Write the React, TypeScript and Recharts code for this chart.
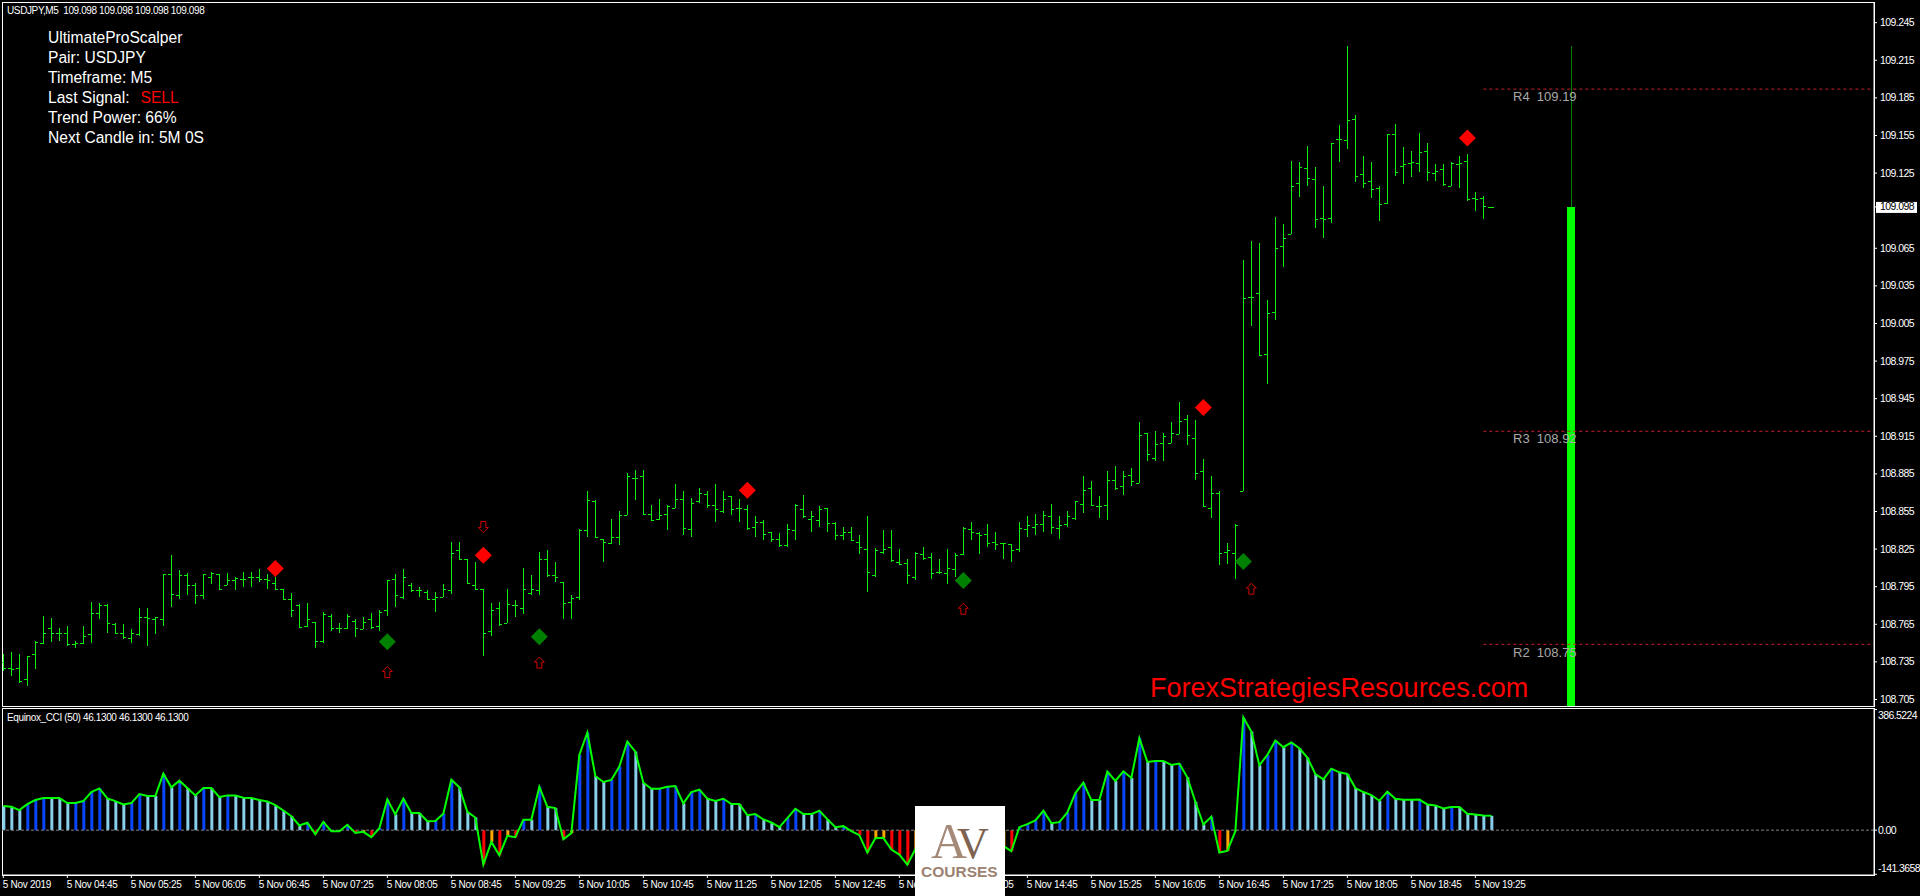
import React from "react";
import {
  ComposedChart,
  Bar,
  Line,
  Scatter,
  XAxis,
  YAxis,
  Cell,
  ReferenceLine,
} from "recharts";

// USDJPY M5 bars
const opens = [
  108.735, 108.73, 108.73, 108.721, 108.741, 108.75, 108.762, 108.758, 108.758, 108.749,
  108.75, 108.757, 108.774, 108.78, 108.765, 108.758, 108.754, 108.757, 108.771, 108.769,
  108.769, 108.805, 108.788, 108.804, 108.796, 108.788, 108.803, 108.805, 108.796, 108.8,
  108.801, 108.803, 108.803, 108.801, 108.798, 108.793, 108.785, 108.78, 108.764, 108.767,
  108.752, 108.772, 108.762, 108.762, 108.768, 108.761, 108.769, 108.764, 108.776, 108.801,
  108.787, 108.796, 108.792, 108.791, 108.785, 108.787, 108.792, 108.824, 108.817, 108.796,
  108.793, 108.76, 108.778, 108.766, 108.78, 108.778, 108.79, 108.792, 108.817, 108.804,
  108.799, 108.783, 108.787, 108.84, 108.863, 108.833, 108.83, 108.835, 108.852, 108.882,
  108.883, 108.853, 108.849, 108.853, 108.858, 108.865, 108.841, 108.863, 108.869, 108.86,
  108.855, 108.867, 108.858, 108.857, 108.843, 108.847, 108.839, 108.833, 108.828, 108.84,
  108.857, 108.849, 108.848, 108.858, 108.846, 108.836, 108.839, 108.831, 108.825, 108.804,
  108.823, 108.827, 108.815, 108.814, 108.803, 108.821, 108.819, 108.807, 108.806, 108.809,
  108.821, 108.841, 108.838, 108.837, 108.831, 108.83, 108.829, 108.825, 108.841, 108.843,
  108.845, 108.851, 108.842, 108.845, 108.85, 108.861, 108.874, 108.859, 108.86, 108.88,
  108.875, 108.884, 108.878, 108.918, 108.898, 108.91, 108.91, 108.917, 108.929, 108.914,
  108.887, 108.858, 108.87, 108.823, 108.822, 108.871, 109.026, 109.029, 108.981, 109.014,
  109.067, 109.076, 109.117, 109.129, 109.12, 109.089, 109.089, 109.152, 109.151, 109.168,
  109.124, 109.119, 109.113, 109.101, 109.156, 109.131, 109.133, 109.133, 109.143, 109.125,
  109.128, 109.115, 109.132, 109.135, 109.105, 109.105, 109.098,
];
const highs = [
  108.741, 108.743, 108.741, 108.74, 108.752, 108.772, 108.77, 108.762, 108.764, 108.752,
  108.764, 108.783, 108.782, 108.781, 108.766, 108.765, 108.761, 108.778, 108.778, 108.771,
  108.805, 108.82, 108.808, 108.806, 108.798, 108.805, 108.807, 108.805, 108.806, 108.803,
  108.807, 108.807, 108.809, 108.805, 108.803, 108.793, 108.79, 108.781, 108.782, 108.767,
  108.775, 108.773, 108.766, 108.773, 108.769, 108.771, 108.774, 108.776, 108.8, 108.805,
  108.809, 108.798, 108.795, 108.792, 108.791, 108.797, 108.831, 108.831, 108.817, 108.815,
  108.793, 108.782, 108.783, 108.793, 108.784, 108.81, 108.804, 108.823, 108.824, 108.815,
  108.799, 108.788, 108.841, 108.871, 108.864, 108.833, 108.849, 108.855, 108.886, 108.888,
  108.888, 108.86, 108.865, 108.86, 108.877, 108.871, 108.866, 108.874, 108.871, 108.877,
  108.871, 108.867, 108.865, 108.86, 108.851, 108.848, 108.839, 108.838, 108.845, 108.861,
  108.868, 108.855, 108.859, 108.858, 108.847, 108.843, 108.843, 108.836, 108.851, 108.826,
  108.84, 108.84, 108.825, 108.817, 108.823, 108.827, 108.822, 108.817, 108.825, 108.822,
  108.843, 108.847, 108.839, 108.845, 108.839, 108.83, 108.829, 108.847, 108.851, 108.853,
  108.855, 108.861, 108.851, 108.855, 108.863, 108.883, 108.879, 108.867, 108.887, 108.891,
  108.887, 108.89, 108.926, 108.918, 108.919, 108.918, 108.926, 108.942, 108.932, 108.928,
  108.897, 108.883, 108.871, 108.83, 108.845, 109.056, 109.071, 109.069, 109.024, 109.09,
  109.084, 109.135, 109.134, 109.147, 109.13, 109.115, 109.149, 109.163, 109.226, 109.171,
  109.139, 109.134, 109.115, 109.156, 109.164, 109.146, 109.143, 109.157, 109.149, 109.132,
  109.132, 109.134, 109.139, 109.14, 109.11, 109.107, 109.098,
];
const lows = [
  108.728, 108.724, 108.718, 108.716, 108.729, 108.749, 108.751, 108.752, 108.748, 108.746,
  108.749, 108.75, 108.769, 108.758, 108.758, 108.753, 108.75, 108.756, 108.748, 108.757,
  108.764, 108.779, 108.785, 108.788, 108.781, 108.785, 108.797, 108.792, 108.796, 108.792,
  108.795, 108.795, 108.799, 108.793, 108.792, 108.785, 108.771, 108.762, 108.763, 108.746,
  108.75, 108.76, 108.758, 108.761, 108.755, 108.761, 108.761, 108.76, 108.772, 108.779,
  108.785, 108.791, 108.787, 108.784, 108.775, 108.787, 108.789, 108.816, 108.797, 108.792,
  108.74, 108.756, 108.764, 108.766, 108.771, 108.773, 108.788, 108.788, 108.803, 108.799,
  108.769, 108.769, 108.784, 108.835, 108.835, 108.815, 108.829, 108.828, 108.852, 108.864,
  108.852, 108.848, 108.848, 108.84, 108.858, 108.836, 108.835, 108.862, 108.858, 108.847,
  108.854, 108.852, 108.847, 108.84, 108.835, 108.832, 108.831, 108.827, 108.827, 108.832,
  108.85, 108.839, 108.843, 108.839, 108.832, 108.832, 108.832, 108.821, 108.791, 108.803,
  108.821, 108.815, 108.812, 108.797, 108.8, 108.816, 108.801, 108.805, 108.797, 108.803,
  108.82, 108.832, 108.821, 108.827, 108.824, 108.817, 108.815, 108.823, 108.835, 108.836,
  108.839, 108.837, 108.833, 108.843, 108.848, 108.854, 108.859, 108.85, 108.848, 108.872,
  108.868, 108.875, 108.878, 108.895, 108.895, 108.895, 108.91, 108.917, 108.908, 108.88,
  108.859, 108.85, 108.812, 108.813, 108.801, 108.871, 109.003, 108.98, 108.957, 109.008,
  109.05, 109.076, 109.106, 109.115, 109.081, 109.073, 109.085, 109.134, 109.144, 109.118,
  109.113, 109.105, 109.087, 109.1, 109.123, 109.116, 109.122, 109.126, 109.119, 109.119,
  109.115, 109.115, 109.113, 109.103, 109.095, 109.088, 109.098,
];
const closes = [
  108.73, 108.729, 108.72, 108.74, 108.751, 108.758, 108.758, 108.758, 108.749, 108.75,
  108.756, 108.774, 108.78, 108.766, 108.758, 108.755, 108.758, 108.771, 108.77, 108.771,
  108.805, 108.789, 108.804, 108.796, 108.788, 108.805, 108.806, 108.793, 108.8, 108.802,
  108.801, 108.803, 108.801, 108.8, 108.793, 108.785, 108.776, 108.763, 108.769, 108.752,
  108.773, 108.762, 108.762, 108.772, 108.762, 108.767, 108.763, 108.775, 108.8, 108.788,
  108.803, 108.792, 108.792, 108.785, 108.787, 108.793, 108.822, 108.817, 108.798, 108.793,
  108.758, 108.776, 108.765, 108.781, 108.78, 108.793, 108.793, 108.817, 108.804, 108.803,
  108.782, 108.786, 108.84, 108.864, 108.835, 108.831, 108.835, 108.852, 108.883, 108.882,
  108.853, 108.848, 108.852, 108.859, 108.865, 108.842, 108.862, 108.87, 108.86, 108.857,
  108.865, 108.857, 108.858, 108.842, 108.847, 108.837, 108.833, 108.828, 108.841, 108.86,
  108.851, 108.851, 108.857, 108.846, 108.836, 108.839, 108.832, 108.827, 108.807, 108.824,
  108.825, 108.816, 108.813, 108.804, 108.822, 108.818, 108.806, 108.807, 108.81, 108.82,
  108.842, 108.839, 108.836, 108.83, 108.829, 108.83, 108.824, 108.842, 108.844, 108.845,
  108.852, 108.843, 108.844, 108.851, 108.863, 108.872, 108.86, 108.859, 108.88, 108.874,
  108.883, 108.879, 108.916, 108.901, 108.909, 108.915, 108.918, 108.927, 108.916, 108.886,
  108.859, 108.87, 108.822, 108.824, 108.844, 109.025, 109.026, 108.98, 109.013, 109.065,
  109.073, 109.115, 109.13, 109.121, 109.088, 109.088, 109.149, 109.152, 109.167, 109.123,
  109.117, 109.112, 109.1, 109.156, 109.126, 109.132, 109.134, 109.142, 109.126, 109.127,
  109.116, 109.133, 109.133, 109.104, 109.104, 109.099, 109.098,
];

// Equinox_CCI (50) per bar, the stretch under the logo is a guess
const cci = [
  77.2, 75, 64.3, 83.6, 96.5, 102.9, 102.9, 102.9, 86.8, 87.2,
  93.3, 122.2, 134, 101.8, 93.3, 82.5, 86.8, 115.8, 109.3, 109.3,
  181.2, 137.2, 158.7, 135.1, 111.5, 135.1, 134.9, 106.1, 111.5, 111,
  104, 102.9, 96.5, 92.2, 80.4, 63.2, 45, 15, 23.6, -12.9,
  26.8, -3.2, -3.2, 17.2, -8.6, -5.4, -22.5, 6.4, 98.6, 50.4,
  100.8, 54.7, 54.7, 28.9, 29.4, 52.5, 161.9, 137.2, 59, 40.7,
  -110.4, -37.5, -80.4, -18.2, -22.5, 33.2, 33.2, 139.4, 75, 70.8,
  -28.9, -9.6, 241.2, 313, 173.7, 154.4, 160.8, 203.7, 284.1, 251.9,
  152.2, 132.9, 133.1, 139.4, 141.5, 85.8, 122.2, 129.7, 100.8, 93.3,
  100.8, 83.6, 83.6, 48.2, 51.5, 34.3, 24.7, 9.6, 38.6, 68.6,
  51.5, 51.5, 62.2, 35.4, 9.6, 12.9, -3.2, -16.1, -71.8, -25.7,
  -24.7, -62.2, -78.3, -110.4, -61.1, -37.5, -21.4, -16.1, -12.9, -32.2,
  -53.6, -59, -26.8, -37.5, -53.6, -50.4, -67.5, 9.6, 19.3, 31.1,
  62.2, 22.5, 25.7, 56.8, 119, 152.2, 96.5, 96.5, 187.6, 157.6,
  188.7, 167.2, 294.8, 218.7, 221.9, 221.9, 209, 213.3, 169.4, 91.1,
  18.2, 42.9, -71.8, -66.5, -3.2, 361.3, 316.2, 208, 241.2, 287.3,
  265.9, 280.9, 262.6, 232.6, 180.1, 162.9, 197.2, 185.5, 180.1, 135.1,
  122.2, 112.6, 94.3, 123.3, 100.8, 97.6, 97.6, 97.9, 82.5, 79.3,
  69.7, 74, 74, 52.5, 50.4, 47.2, 46.13,
];

const timeLabels = [
  "5 Nov 2019", "5 Nov 04:45", "5 Nov 05:25", "5 Nov 06:05", "5 Nov 06:45", "5 Nov 07:25",
  "5 Nov 08:05", "5 Nov 08:45", "5 Nov 09:25", "5 Nov 10:05", "5 Nov 10:45", "5 Nov 11:25",
  "5 Nov 12:05", "5 Nov 12:45", "5 Nov 13:25", "5 Nov 14:05", "5 Nov 14:45", "5 Nov 15:25",
  "5 Nov 16:05", "5 Nov 16:45", "5 Nov 17:25", "5 Nov 18:05", "5 Nov 18:45", "5 Nov 19:25",
];
const timeTicks = timeLabels.map((_, i) => i * 8);

const lastPrice = 109.098;
// 109.095 sits under the white last price box, so the box takes its place
const priceTicks = [
  109.245, 109.215, 109.185, 109.155, 109.125, lastPrice, 109.065, 109.035, 109.005, 108.975,
  108.945, 108.915, 108.885, 108.855, 108.825, 108.795, 108.765, 108.735, 108.705,
];
const cciTicks = [386.5224, 0, -141.3658];

// the indicator's one big candle out to the right
const bigCandle = { idx: 196, open: 108.7, high: 109.226, low: 108.7, close: lastPrice };

const redDiamonds = [
  { idx: 34, price: 108.8095 },
  { idx: 60, price: 108.82 },
  { idx: 93, price: 108.872 },
  { idx: 150, price: 108.938 },
  { idx: 183, price: 109.153 },
];
const greenDiamonds = [
  { idx: 48, price: 108.751 },
  { idx: 67, price: 108.755 },
  { idx: 120, price: 108.8 },
  { idx: 155, price: 108.815 },
];
const upArrows = [
  { idx: 48, price: 108.7265 },
  { idx: 67, price: 108.734 },
  { idx: 120, price: 108.777 },
  { idx: 156, price: 108.793 },
];
const downArrows = [{ idx: 60, price: 108.843 }];

const levels = [
  { name: "R4  109.19", price: 109.192 },
  { name: "R3  108.92", price: 108.919 },
  { name: "R2  108.75", price: 108.749 },
];

const infoLines = [
  "UltimateProScalper",
  "Pair: USDJPY",
  "Timeframe: M5",
  "Last Signal:",
  "Trend Power: 66%",
  "Next Candle in: 5M 0S",
];

const priceRows = opens.map((open, i) => ({
  idx: i,
  open,
  high: highs[i],
  low: lows[i],
  close: closes[i],
}));
priceRows.push(bigCandle);

const cciRows = cci.map((value, i) => ({ idx: i, value }));

const xDomain = [-0.1667, 233.83];
const SANS = "'Liberation Sans', Arial, sans-serif";

function cciColor(i: number) {
  const v = cci[i];
  const prev = i > 0 ? cci[i - 1] : v;
  if (v >= 0) return v > prev ? "#0a46ff" : "#87ceeb";
  return v < prev ? "#ff0000" : "#ffa500";
}

function OhlcShape(props: any) {
  const { x, y, width, height, payload } = props;
  const cx = Math.round(x + width / 2);
  const range = payload.high - payload.low;
  const yOf = (v: number) =>
    range > 0 ? Math.round(y + ((payload.high - v) / range) * height) : Math.round(y);
  if (payload.idx === bigCandle.idx) {
    return (
      <g shapeRendering="crispEdges">
        <line x1={cx} x2={cx} y1={y} y2={y + height} stroke="#008000" />
        <rect x={cx - 4} y={yOf(payload.close)} width={8} height={y + height - yOf(payload.close)} fill="#00ff00" />
      </g>
    );
  }
  const stroke = "#10f010";
  return (
    <g shapeRendering="crispEdges" stroke={stroke}>
      <line x1={cx} x2={cx} y1={y} y2={y + height} />
      <line x1={cx - 3} x2={cx} y1={yOf(payload.open)} y2={yOf(payload.open)} />
      <line x1={cx} x2={cx + 3} y1={yOf(payload.close)} y2={yOf(payload.close)} />
    </g>
  );
}

function Diamond(props: any) {
  const { cx, cy, fill } = props;
  const r = 8.5;
  return <path d={`M${cx} ${cy - r}L${cx + r} ${cy}L${cx} ${cy + r}L${cx - r} ${cy}Z`} fill={fill} />;
}

function ArrowUp(props: any) {
  const { cx, cy } = props;
  return (
    <path
      d={`M${cx} ${cy - 6}L${cx + 5} ${cy - 1}H${cx + 2.5}V${cy + 5}H${cx - 2.5}V${cy - 1}H${cx - 5}Z`}
      fill="none"
      stroke="#d00000"
    />
  );
}

function ArrowDown(props: any) {
  const { cx, cy } = props;
  return (
    <path
      d={`M${cx} ${cy + 6}L${cx + 5} ${cy + 1}H${cx + 2.5}V${cy - 5}H${cx - 2.5}V${cy + 1}H${cx - 5}Z`}
      fill="none"
      stroke="#d00000"
    />
  );
}

function PriceTick(props: any) {
  const { y, payload } = props;
  const isLast = payload.value === lastPrice;
  return (
    <g>
      {isLast && <rect x={1876} y={y - 5} width={41} height={11} fill="#ffffff" />}
      <text x={1880} y={y + 3.5} fill={isLast ? "#000000" : "#ffffff"} fontSize={10.5} fontFamily={SANS} letterSpacing={-0.55}>
        {payload.value.toFixed(3)}
      </text>
    </g>
  );
}

function CciTick(props: any) {
  const { y, payload } = props;
  const v = payload.value;
  const shift = v > 0 ? 6 : v < 0 ? -6 : 0;
  return (
    <text x={1878} y={y + shift + 3.5} fill="#ffffff" fontSize={10.5} fontFamily={SANS} letterSpacing={-0.6}>
      {v === 0 ? "0.00" : v.toFixed(4)}
    </text>
  );
}

function TimeTick(props: any) {
  const { x, y, payload } = props;
  return (
    <text x={x - 0.5} y={y + 8} fill="#ffffff" fontSize={10} fontFamily={SANS} letterSpacing={-0.3}>
      {timeLabels[payload.value / 8]}
    </text>
  );
}

function Txt({ x, y, size, color, family, weight, spacing, children }: any) {
  return (
    <span
      style={{
        position: "absolute",
        left: x,
        top: y,
        fontSize: size,
        lineHeight: 1,
        color,
        fontFamily: family || SANS,
        fontWeight: weight || 400,
        letterSpacing: spacing || 0,
        whiteSpace: "pre",
      }}
    >
      {children}
    </span>
  );
}

export default function App() {
  return (
    <div
      style={{
        position: "absolute",
        left: 0,
        top: 0,
        width: 1920,
        height: 896,
        background: "#000000",
        overflow: "hidden",
      }}
    >
      <div style={{ position: "absolute", left: 2, top: 2, width: 1871, height: 703, border: "1px solid #ffffff" }} />
      <div style={{ position: "absolute", left: 2, top: 708, width: 1871, height: 166, border: "1px solid #ffffff" }} />

      <div style={{ position: "absolute", left: 0, top: 0 }}>
        <ComposedChart
          width={1920}
          height={708}
          data={priceRows}
          margin={{ top: 2, right: 0, bottom: 2, left: 2 }}
          barCategoryGap={0}
        >
          <XAxis type="number" dataKey="idx" domain={xDomain} allowDataOverflow hide height={0} />
          <YAxis
            orientation="right"
            width={46}
            domain={[108.6998, 109.2615]}
            allowDataOverflow
            ticks={priceTicks}
            interval={0}
            tick={<PriceTick />}
            tickSize={3}
            stroke="#ffffff"
          />
          <Bar
            dataKey={(d: any) => [d.low, d.high]}
            barSize={8}
            shape={<OhlcShape />}
            isAnimationActive={false}
          />
          {levels.map((l) => (
            <ReferenceLine
              key={l.name}
              segment={[
                { x: 185, y: l.price },
                { x: xDomain[1], y: l.price },
              ]}
              stroke="#c8202c"
              strokeDasharray="3 3"
            />
          ))}
          <Scatter data={redDiamonds} dataKey="price" shape={<Diamond fill="#ff0000" />} isAnimationActive={false} />
          <Scatter data={greenDiamonds} dataKey="price" shape={<Diamond fill="#008000" />} isAnimationActive={false} />
          <Scatter data={upArrows} dataKey="price" shape={<ArrowUp />} isAnimationActive={false} />
          <Scatter data={downArrows} dataKey="price" shape={<ArrowDown />} isAnimationActive={false} />
        </ComposedChart>
      </div>

      <div style={{ position: "absolute", left: 0, top: 708 }}>
        <ComposedChart
          width={1920}
          height={188}
          data={cciRows}
          margin={{ top: 0, right: 0, bottom: 0, left: 2 }}
        >
          <XAxis
            type="number"
            dataKey="idx"
            domain={xDomain}
            allowDataOverflow
            ticks={timeTicks}
            interval={0}
            height={21}
            tick={<TimeTick />}
            tickSize={3}
            stroke="#ffffff"
          />
          <YAxis
            orientation="right"
            width={46}
            domain={[-143.7, 391.6]}
            allowDataOverflow
            ticks={cciTicks}
            interval={0}
            tick={<CciTick />}
            tickSize={3}
            stroke="#ffffff"
          />
          <Bar dataKey="value" barSize={3} isAnimationActive={false}>
            {cciRows.map((r) => (
              <Cell key={r.idx} fill={cciColor(r.idx)} />
            ))}
          </Bar>
          <ReferenceLine y={0} stroke="#808080" strokeDasharray="3 2" />
          <Line dataKey="value" type="linear" stroke="#00ff00" strokeWidth={2} dot={false} isAnimationActive={false} />
        </ComposedChart>
      </div>

      <Txt x={7} y={6} size={10} color="#ffffff" spacing={-0.38}>{`USDJPY,M5  109.098 109.098 109.098 109.098`}</Txt>
      <Txt x={7} y={713} size={10} color="#ffffff" spacing={-0.37}>{`Equinox_CCI (50) 46.1300 46.1300 46.1300`}</Txt>

      {infoLines.map((line, i) => (
        <Txt key={line} x={48} y={29.5 + i * 20} size={15.6} color="#ffffff">
          {line}
        </Txt>
      ))}
      <Txt x={140.5} y={89.5} size={15.6} color="#ff0000">SELL</Txt>

      <Txt x={1513} y={90} size={13} color="#a9a9a9">{levels[0].name}</Txt>
      <Txt x={1513} y={432} size={13} color="#a9a9a9">{levels[1].name}</Txt>
      <Txt x={1513} y={646} size={13} color="#a9a9a9">{levels[2].name}</Txt>

      <Txt x={1150} y={675} size={27} color="#ff0000">ForexStrategiesResources.com</Txt>

      <div style={{ position: "absolute", left: 915, top: 806, width: 90, height: 90, background: "#ffffff" }} />
      <Txt x={931} y={816} size={50} color="#a58a78" family="'Liberation Serif', serif">A</Txt>
      <Txt x={957} y={822} size={44} color="#7d6350" family="'Liberation Serif', serif">V</Txt>
      <Txt x={921} y={864} size={15.5} color="#9c8270" weight={700}>COURSES</Txt>
    </div>
  );
}
